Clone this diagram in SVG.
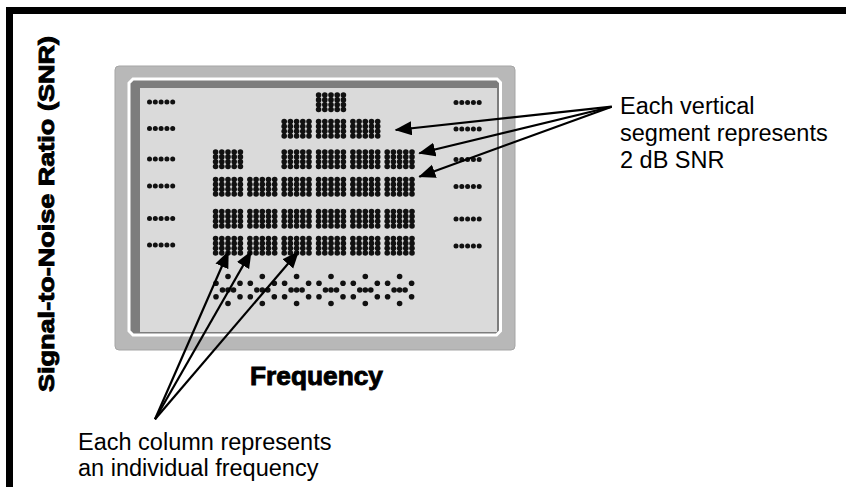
<svg xmlns="http://www.w3.org/2000/svg" xmlns:xlink="http://www.w3.org/1999/xlink" width="846" height="487" viewBox="0 0 846 487">
<style>
.lbl{font-family:"Liberation Sans",Arial,sans-serif;font-size:23.5px;fill:#000}
.hvy{font-family:"Liberation Sans",Arial,sans-serif;font-weight:bold;fill:#000;stroke:#000;stroke-width:0.9}
.dot{fill:#111}
.con{stroke:#000;stroke-width:2.2;fill:none}
</style>
<defs>
<g id="blk" class="dot">
<circle cx="2.6" cy="2.6" r="2.8"/><circle cx="8.8" cy="2.6" r="2.8"/><circle cx="15" cy="2.6" r="2.8"/><circle cx="21.2" cy="2.6" r="2.8"/><circle cx="27.4" cy="2.6" r="2.8"/>
<circle cx="2.6" cy="7.4" r="2.8"/><circle cx="8.8" cy="7.4" r="2.8"/><circle cx="15" cy="7.4" r="2.8"/><circle cx="21.2" cy="7.4" r="2.8"/><circle cx="27.4" cy="7.4" r="2.8"/>
<circle cx="2.6" cy="12.2" r="2.8"/><circle cx="8.8" cy="12.2" r="2.8"/><circle cx="15" cy="12.2" r="2.8"/><circle cx="21.2" cy="12.2" r="2.8"/><circle cx="27.4" cy="12.2" r="2.8"/>
<circle cx="2.6" cy="17" r="2.8"/><circle cx="8.8" cy="17" r="2.8"/><circle cx="15" cy="17" r="2.8"/><circle cx="21.2" cy="17" r="2.8"/><circle cx="27.4" cy="17" r="2.8"/>
</g>
<g id="mk" class="dot">
<circle cx="0" cy="0" r="2.5"/><circle cx="5.8" cy="0" r="2.5"/><circle cx="11.6" cy="0" r="2.5"/><circle cx="17.4" cy="0" r="2.5"/><circle cx="23.2" cy="0" r="2.5"/>
</g>
<g id="flk" class="dot">
<circle cx="0" cy="-13.5" r="2.8"/><circle cx="0" cy="0" r="2.8"/><circle cx="0" cy="13.5" r="2.8"/><circle cx="-5.5" cy="0" r="2.8"/><circle cx="5.5" cy="0" r="2.8"/>
<circle cx="-12" cy="-6.7" r="2.8"/><circle cx="12" cy="-6.7" r="2.8"/><circle cx="-12" cy="6.7" r="2.8"/><circle cx="12" cy="6.7" r="2.8"/>
</g>
<marker id="ah" markerUnits="userSpaceOnUse" markerWidth="18" markerHeight="15" refX="16" refY="7" orient="auto">
<path d="M0,0 L17,7 L0,14 z" fill="#000"/>
</marker>
</defs>
<rect width="846" height="487" fill="#fff"/>
<g id="frame">
<path d="M6,487 V7 H846 V14 H13 V487 z" fill="#000"/>
</g>
<g id="display">
<rect x="115" y="66" width="400" height="284" rx="4" fill="#b8b8b8" stroke="#a5a5a5" stroke-width="1"/>
<polygon points="133,79 497,79 500.5,82.5 500.5,331 496.5,335 133,335 129,331 129,83" fill="#7d7d7d" stroke="#fff" stroke-width="3"/>
<rect x="140" y="88" width="357" height="244" fill="#dadada"/>
<use xlink:href="#mk" x="149.5" y="102"/>
<use xlink:href="#mk" x="149.5" y="128.5"/>
<use xlink:href="#mk" x="149.5" y="159"/>
<use xlink:href="#mk" x="149.5" y="186"/>
<use xlink:href="#mk" x="149.5" y="218.5"/>
<use xlink:href="#mk" x="149.5" y="245"/>
<use xlink:href="#mk" x="456" y="102.5"/>
<use xlink:href="#mk" x="456" y="129"/>
<use xlink:href="#mk" x="456" y="159.5"/>
<use xlink:href="#mk" x="456" y="186.5"/>
<use xlink:href="#mk" x="456" y="219"/>
<use xlink:href="#mk" x="456" y="246"/>
<use xlink:href="#blk" x="316" y="92.5"/>
<use xlink:href="#blk" x="281.6" y="119"/>
<use xlink:href="#blk" x="316" y="119"/>
<use xlink:href="#blk" x="350.3" y="119"/>
<use xlink:href="#blk" x="213" y="149.5"/>
<use xlink:href="#blk" x="281.6" y="149.5"/>
<use xlink:href="#blk" x="316" y="149.5"/>
<use xlink:href="#blk" x="350.3" y="149.5"/>
<use xlink:href="#blk" x="384.6" y="149.5"/>
<use xlink:href="#blk" x="213" y="177"/>
<use xlink:href="#blk" x="247.3" y="177"/>
<use xlink:href="#blk" x="281.6" y="177"/>
<use xlink:href="#blk" x="316" y="177"/>
<use xlink:href="#blk" x="350.3" y="177"/>
<use xlink:href="#blk" x="384.6" y="177"/>
<use xlink:href="#blk" x="213" y="209"/>
<use xlink:href="#blk" x="247.3" y="209"/>
<use xlink:href="#blk" x="281.6" y="209"/>
<use xlink:href="#blk" x="316" y="209"/>
<use xlink:href="#blk" x="350.3" y="209"/>
<use xlink:href="#blk" x="384.6" y="209"/>
<use xlink:href="#blk" x="213" y="236"/>
<use xlink:href="#blk" x="247.3" y="236"/>
<use xlink:href="#blk" x="281.6" y="236"/>
<use xlink:href="#blk" x="316" y="236"/>
<use xlink:href="#blk" x="350.3" y="236"/>
<use xlink:href="#blk" x="384.6" y="236"/>
<use xlink:href="#flk" x="228" y="290"/>
<use xlink:href="#flk" x="262.3" y="290"/>
<use xlink:href="#flk" x="296.6" y="290"/>
<use xlink:href="#flk" x="331" y="290"/>
<use xlink:href="#flk" x="365.3" y="290"/>
<use xlink:href="#flk" x="399.6" y="290"/>
</g>
<g id="y-label">
<text class="hvy" transform="translate(54,214) rotate(-90)" text-anchor="middle" font-size="22" textLength="356" lengthAdjust="spacingAndGlyphs">Signal-to-Noise Ratio (SNR)</text>
</g>
<g id="x-label">
<text class="hvy" x="250" y="385" font-size="25.5" textLength="133" lengthAdjust="spacingAndGlyphs">Frequency</text>
</g>
<g id="label-segment">
<text class="lbl" x="620" y="114">Each vertical</text>
<text class="lbl" x="620" y="141">segment represents</text>
<text class="lbl" x="620" y="168">2 dB SNR</text>
</g>
<g id="label-column">
<text class="lbl" x="78" y="450">Each column represents</text>
<text class="lbl" x="78" y="476">an individual frequency</text>
</g>
<g id="connectors">
<line class="con" x1="611.7" y1="106.7" x2="395.7" y2="130" marker-end="url(#ah)"/>
<line class="con" x1="611.7" y1="106.7" x2="419.3" y2="153.3" marker-end="url(#ah)"/>
<line class="con" x1="611.7" y1="106.7" x2="419.3" y2="176.7" marker-end="url(#ah)"/>
<line class="con" x1="155" y1="419.3" x2="228.3" y2="251.7" marker-end="url(#ah)"/>
<line class="con" x1="155" y1="419.3" x2="251" y2="251.7" marker-end="url(#ah)"/>
<line class="con" x1="155" y1="419.3" x2="298.3" y2="251.7" marker-end="url(#ah)"/>
</g>
</svg>
